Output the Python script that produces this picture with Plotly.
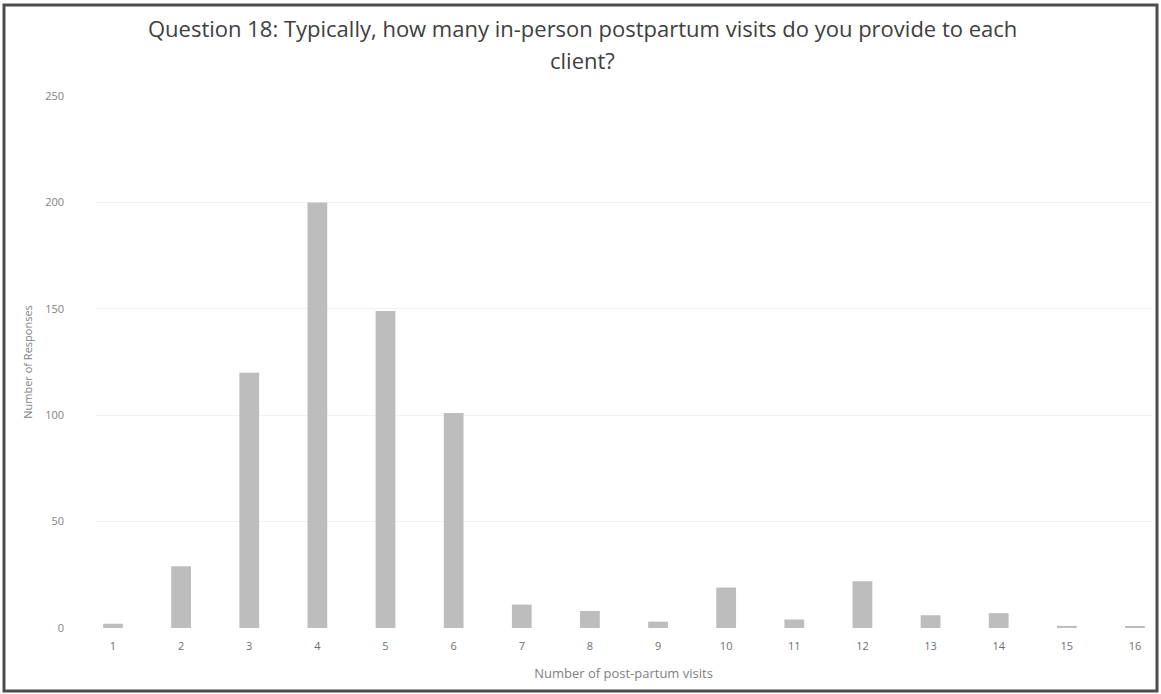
import plotly.graph_objects as go

# Number of in-person postpartum visits and how many respondents chose each
visits = list(range(1, 17))
responses = [2, 29, 120, 200, 149, 101, 11, 8, 3, 19, 4, 22, 6, 7, 1, 0.5]
y_ticks = [0, 50, 100, 150, 200, 250]

title_line1 = "Question 18: Typically, how many in-person postpartum visits do you provide to each"
title_line2 = "client?"

fig = go.Figure(
    go.Bar(
        x=visits,
        y=responses,
        width=0.29,
        marker=dict(color="#bdbdbd", line=dict(width=0)),
    )
)

fig.update_layout(
    width=1161,
    height=694,
    margin=dict(l=95, r=9, t=96, b=66),
    paper_bgcolor="white",
    plot_bgcolor="white",
    font=dict(family="Open Sans, Liberation Sans, sans-serif", color="#595959"),
    showlegend=False,
    xaxis=dict(
        range=[0.736, 16.25],
        tickmode="array",
        tickvals=visits,
        ticktext=[str(v) for v in visits],
        tickfont=dict(size=11, color="#6f6f6f"),
        showgrid=False,
        zeroline=False,
        showline=False,
        ticks="",
        ticklabelstandoff=10,
        title=dict(text="Number of post-partum visits", font=dict(size=13, color="#7f7f7f"), standoff=16),
    ),
    yaxis=dict(
        range=[0, 250],
        tickmode="array",
        tickvals=y_ticks,
        tickfont=dict(size=11, color="#7f7f7f"),
        showgrid=True,
        gridcolor="#f2f2f2",
        gridwidth=1,
        zeroline=False,
        showline=False,
        ticks="",
        ticklabelstandoff=30,
        title=dict(text="Number of Responses", font=dict(size=11, color="#7f7f7f"), standoff=10),
    ),
)

# Two-line chart title, placed in pixels from the top of the page
for text, y_px in [(title_line1, 28), (title_line2, 60)]:
    fig.add_annotation(
        text=text,
        xref="paper", yref="paper",
        x=(582 - 95) / 1057,
        y=1 + (96 - y_px) / 532,
        xanchor="center", yanchor="middle",
        showarrow=False,
        font=dict(size=22, color="#404040", family="Open Sans, sans-serif"),
    )

# Dark frame around the whole chart
fig.add_shape(
    type="rect",
    xref="paper", yref="paper",
    x0=-91 / 1057, x1=1 + 5 / 1057,
    y0=-63 / 532, y1=1 + 91 / 532,
    line=dict(color="#4d4d4d", width=3),
    fillcolor="rgba(0,0,0,0)",
    layer="above",
)

fig.write_html("out.html")
